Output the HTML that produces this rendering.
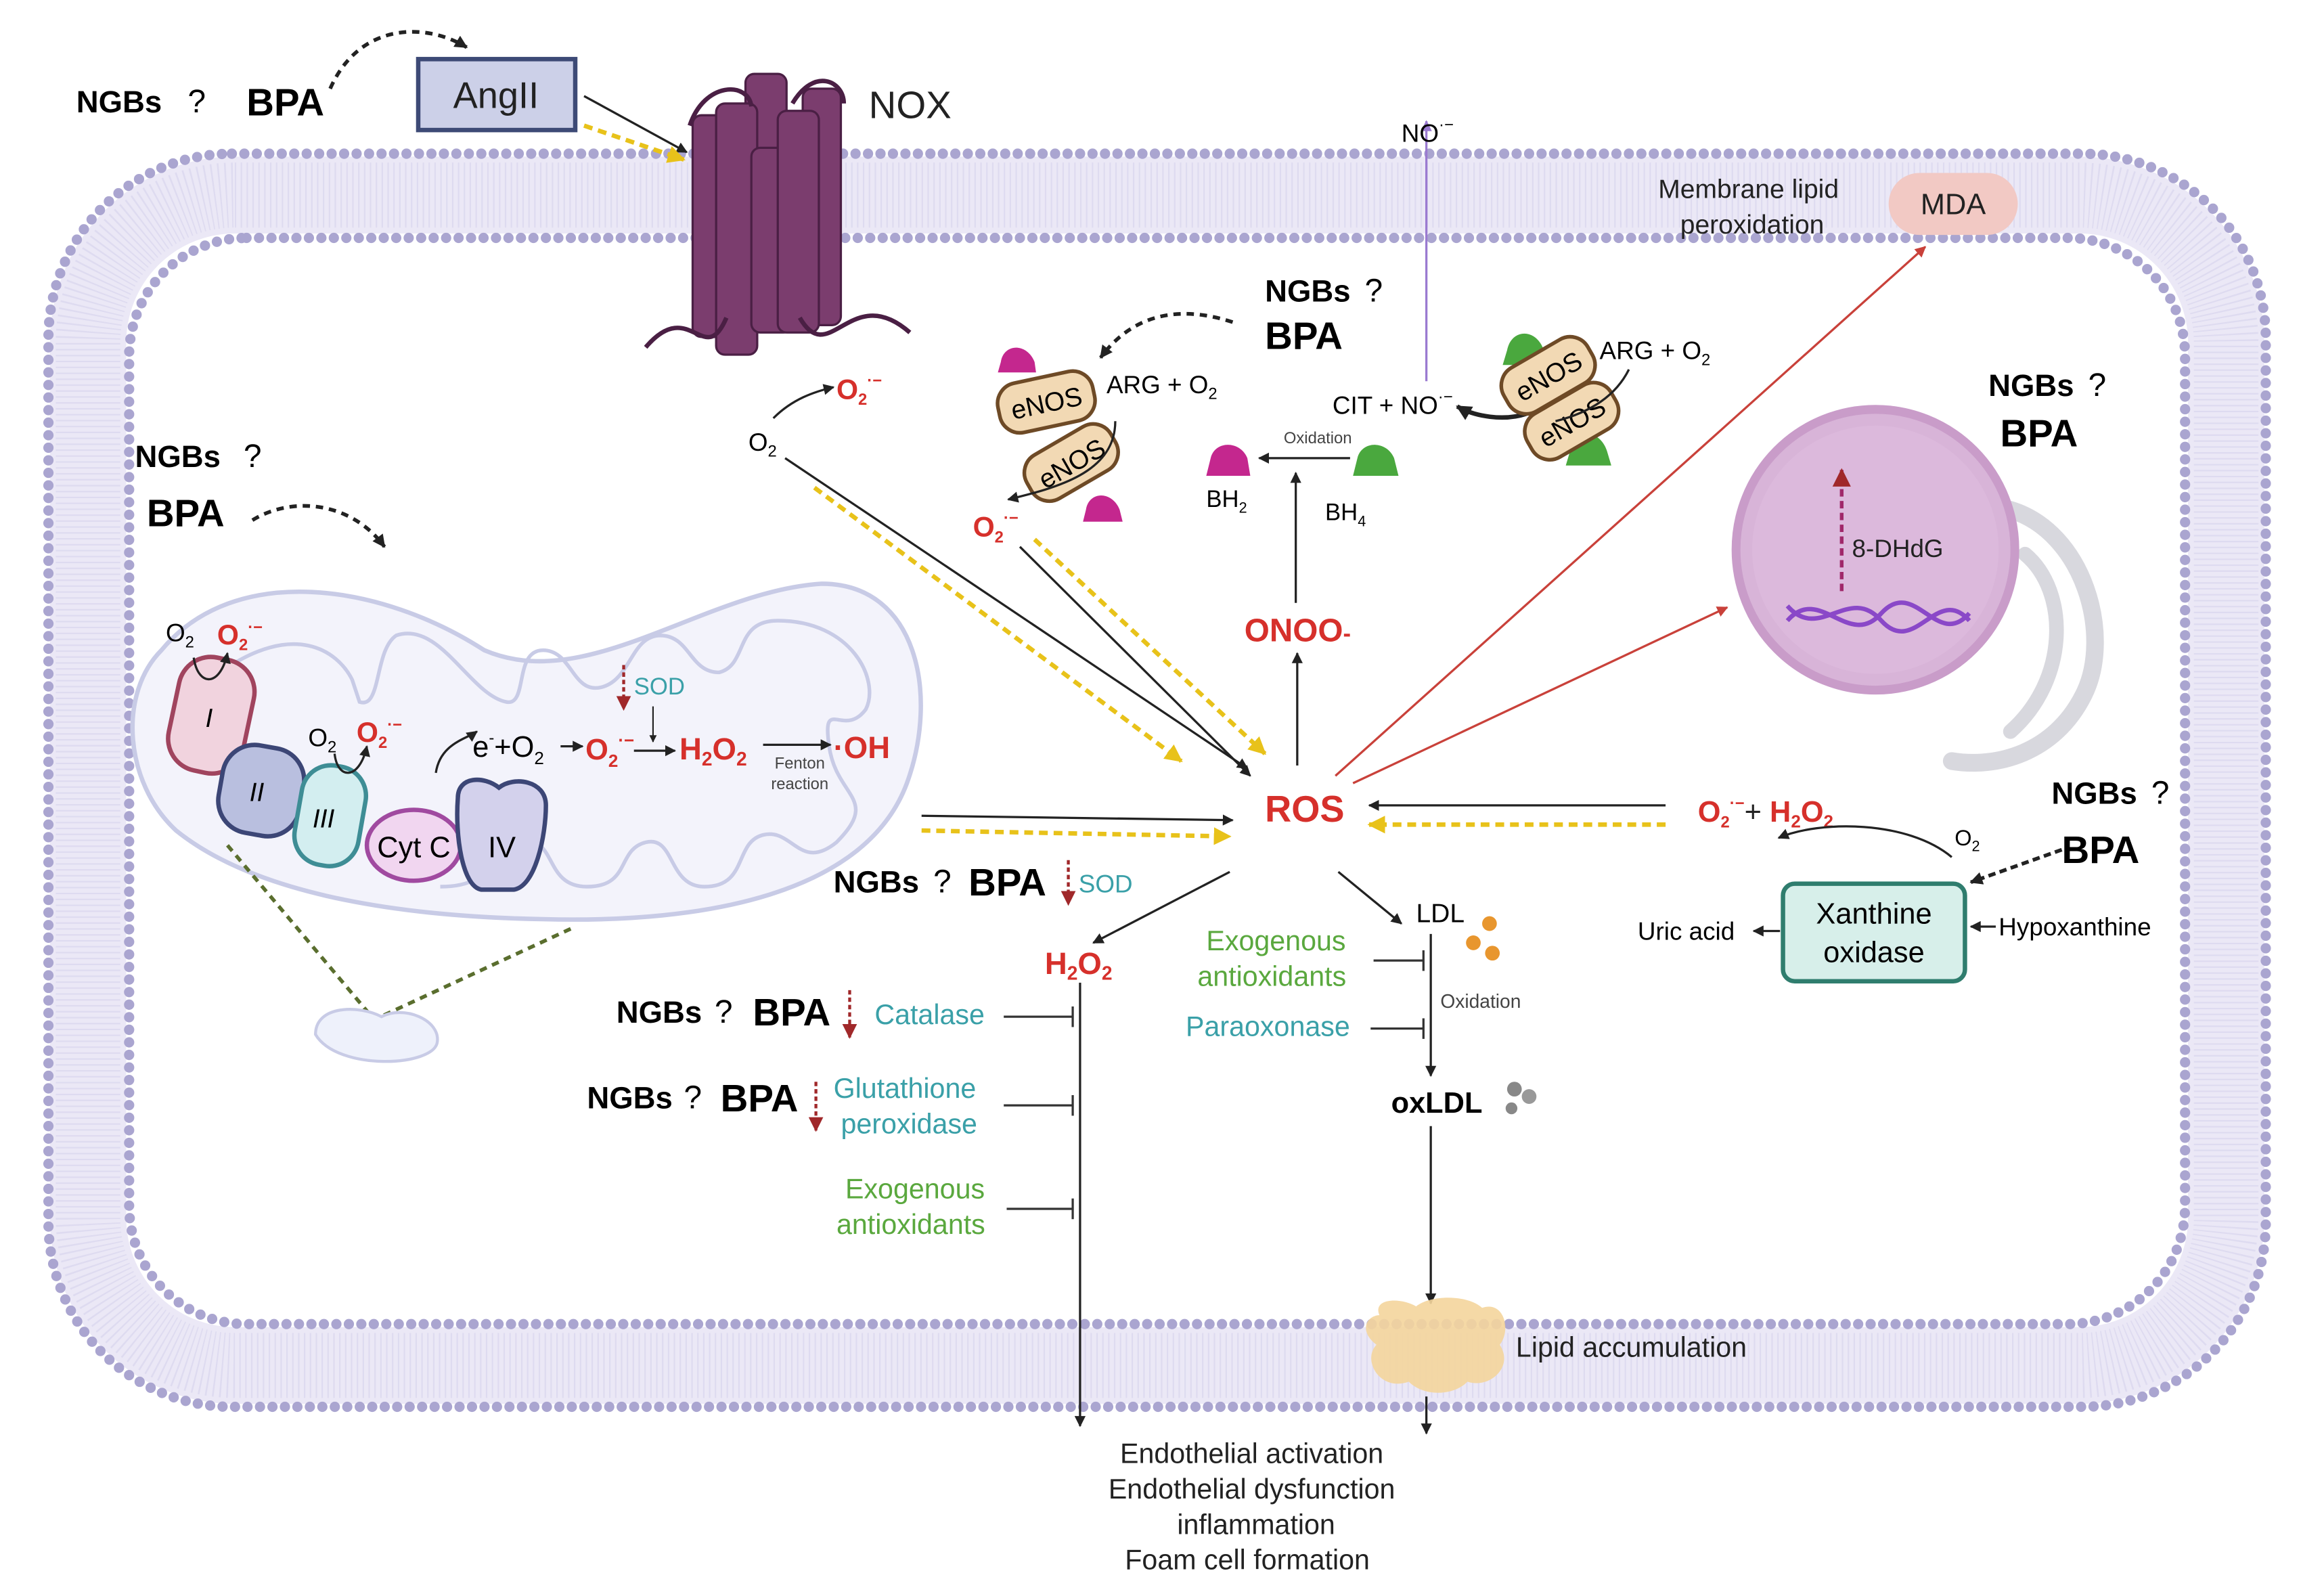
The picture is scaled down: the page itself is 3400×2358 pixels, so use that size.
<!DOCTYPE html>
<html><head><meta charset="utf-8"><style>html,body{margin:0;padding:0;background:#fff}svg{display:block}text{font-family:"Liberation Sans",sans-serif}</style></head>
<body>
<svg width="3400" height="2358" viewBox="0 0 1568 1080" preserveAspectRatio="none" xmlns="http://www.w3.org/2000/svg">
<defs>
<marker id="ab" viewBox="0 0 10 10" refX="9" refY="5" markerWidth="5" markerHeight="5" orient="auto"><path d="M0,0L10,5L0,10z" fill="#222"/></marker>
<marker id="ay" viewBox="0 0 10 10" refX="9" refY="5" markerWidth="4" markerHeight="4" orient="auto"><path d="M0,0L10,5L0,10z" fill="#e8c21a"/></marker>
<marker id="ar" viewBox="0 0 10 10" refX="9" refY="5" markerWidth="5" markerHeight="5" orient="auto"><path d="M0,0L10,5L0,10z" fill="#c9413a"/></marker>
<marker id="ap" viewBox="0 0 10 10" refX="9" refY="5" markerWidth="5" markerHeight="5" orient="auto"><path d="M0,0L10,5L0,10z" fill="#9a7ad0"/></marker>
<marker id="ad" viewBox="0 0 10 10" refX="9" refY="5" markerWidth="5" markerHeight="5" orient="auto"><path d="M0,0L10,5L0,10z" fill="#a0282a"/></marker>
<marker id="abig" viewBox="0 0 10 10" refX="9" refY="5" markerWidth="3.5" markerHeight="3.5" orient="auto"><path d="M0,0L10,5L0,10z" fill="#222"/></marker>
<marker id="tb" viewBox="0 0 4 14" refX="2" refY="7" markerWidth="4" markerHeight="14" markerUnits="userSpaceOnUse" orient="auto"><path d="M2,0V14" stroke="#333" stroke-width="1.5"/></marker>
</defs>
<!-- membrane -->
<rect x="60" y="132" width="1457" height="792" rx="100" fill="none" stroke="#ebe8f6" stroke-width="52"/>
<rect x="60" y="132" width="1457" height="792" rx="100" fill="none" stroke="#d6d2ec" stroke-width="44" stroke-dasharray="1 3" opacity="0.6"/>
<rect x="33" y="104" width="1511" height="848" rx="125" fill="none" stroke="#aaa5d0" stroke-width="7" stroke-linecap="round" stroke-dasharray="0 8.5"/>
<rect x="88" y="161" width="1401" height="735" rx="80" fill="none" stroke="#aaa5d0" stroke-width="7" stroke-linecap="round" stroke-dasharray="0 8.5"/>
<rect x="88" y="885" width="1401" height="8" fill="none"/>

<!-- top left -->
<text x="52" y="76" font-size="21" font-weight="bold">NGBs</text><text x="128" y="76" font-size="22">?</text>
<text x="168" y="78" font-size="26" font-weight="bold">BPA</text>
<path d="M225,60 C245,15 290,15 318,32" fill="none" stroke="#222" stroke-width="2.5" stroke-dasharray="5 4" marker-end="url(#abig)"/>
<rect x="285" y="40" width="107" height="48" fill="#ccd0e8" stroke="#3d4a76" stroke-width="3"/>
<text x="338" y="73" font-size="25" text-anchor="middle" fill="#222">AngII</text>
<path d="M398,65 L468,103" stroke="#222" stroke-width="1.5" marker-end="url(#ab)"/>
<path d="M398,85 L466,108" stroke="#e8c21a" stroke-width="3" stroke-dasharray="6 4" marker-end="url(#ay)"/>
<!-- NOX -->
<g fill="#7b3d6e" stroke="#4a1f44" stroke-width="1.5">
<rect x="472" y="78" width="26" height="150" rx="6"/><rect x="508" y="50" width="28" height="160" rx="6"/><rect x="547" y="60" width="26" height="160" rx="6"/>
<rect x="488" y="70" width="28" height="170" rx="6"/><rect x="512" y="100" width="28" height="125" rx="6"/><rect x="530" y="75" width="28" height="150" rx="6"/>
</g>
<path d="M440,235 C470,200 480,250 495,215 M545,215 C565,250 580,190 620,225 M470,85 C480,55 510,55 512,72 M540,70 C555,45 575,55 575,70" fill="none" stroke="#4a1f44" stroke-width="3"/>
<text x="592" y="80" font-size="26" fill="#222">NOX</text>

<!-- mitochondrion -->
<path d="M110,440 C160,380 260,395 330,440 C400,470 480,400 560,395 C625,395 640,470 618,530 C590,605 480,625 370,622 C260,620 170,602 120,562 C85,530 80,470 110,440 Z" fill="#f3f3fb" stroke="#c8cbe6" stroke-width="3"/>
<path d="M150,455 C200,420 230,440 240,460 L245,475 C260,480 255,440 270,430 C300,420 320,470 345,475 C360,478 350,440 370,440 C390,440 390,470 410,465 C430,460 430,430 450,430 C470,430 470,455 490,455 C510,450 500,420 530,420 C580,420 600,460 590,480 C575,500 560,470 565,505 C570,540 600,540 570,570 C545,590 540,560 520,565 C500,570 510,600 480,600 C455,600 460,565 440,570 C420,575 430,600 400,600 C370,600 380,565 355,570 C330,575 340,600 300,600" fill="none" stroke="#c8cbe6" stroke-width="2.5"/>
<rect x="118" y="445" width="52" height="78" rx="22" transform="rotate(12 144 484)" fill="#f1d3de" stroke="#a0445e" stroke-width="3"/>
<text x="140" y="492" font-size="18" font-style="italic">I</text>
<rect x="150" y="505" width="56" height="60" rx="22" fill="#b9bfdf" stroke="#3c4676" stroke-width="3" transform="rotate(10 178 535)"/>
<text x="170" y="542" font-size="18" font-style="italic">II</text>
<rect x="203" y="518" width="44" height="68" rx="20" fill="#d3eef0" stroke="#3e8d95" stroke-width="3" transform="rotate(10 225 552)"/>
<text x="213" y="560" font-size="18" font-style="italic">III</text>
<ellipse cx="282" cy="572" rx="32" ry="24" fill="#f1d6f0" stroke="#a04aa0" stroke-width="3"/>
<text x="282" y="580" font-size="20" text-anchor="middle">Cyt C</text>
<path d="M312,540 C312,525 330,525 340,533 C350,525 372,528 372,545 C372,565 365,600 350,602 L328,602 C315,600 310,565 312,540 Z" fill="#d3d1ec" stroke="#3c4676" stroke-width="3"/>
<text x="342" y="580" font-size="20" text-anchor="middle">IV</text>
<text x="113" y="434" font-size="17">O<tspan font-size="11" dy="4">2</tspan></text>
<text x="148" y="436" font-size="19" font-weight="bold" fill="#d6302b">O<tspan font-size="11" dy="4">2</tspan><tspan font-size="11" dy="-12">·−</tspan></text>
<path d="M132,445 C135,465 150,465 155,442" fill="none" stroke="#222" stroke-width="1.5" marker-end="url(#ab)"/>
<text x="210" y="505" font-size="17">O<tspan font-size="11" dy="4">2</tspan></text>
<text x="243" y="502" font-size="19" font-weight="bold" fill="#d6302b">O<tspan font-size="11" dy="4">2</tspan><tspan font-size="11" dy="-12">·−</tspan></text>
<path d="M228,510 C230,528 245,528 250,505" fill="none" stroke="#222" stroke-width="1.5" marker-end="url(#ab)"/>
<path d="M297,523 C300,503 318,500 325,495" fill="none" stroke="#222" stroke-width="1.5" marker-end="url(#ab)"/>
<text x="322" y="512" font-size="20">e<tspan font-size="11" dy="-9">-</tspan><tspan dy="9">+O</tspan><tspan font-size="12" dy="5">2</tspan></text>
<path d="M382,505 L397,505" stroke="#222" stroke-width="1.5" marker-end="url(#ab)"/>
<text x="399" y="514" font-size="20" font-weight="bold" fill="#d6302b">O<tspan font-size="12" dy="5">2</tspan><tspan font-size="12" dy="-14">·−</tspan></text>
<path d="M432,508 L460,508" stroke="#222" stroke-width="1.5" marker-end="url(#ab)"/>
<path d="M445,478 L445,502" stroke="#222" stroke-width="1" marker-end="url(#ab)"/>
<path d="M425,450 L425,480" stroke="#a0282a" stroke-width="2" stroke-dasharray="3 2" marker-end="url(#ad)"/>
<text x="432" y="470" font-size="16" fill="#3aa0a8">SOD</text>
<text x="463" y="514" font-size="21" font-weight="bold" fill="#d6302b">H<tspan font-size="13" dy="4">2</tspan><tspan dy="-4">O</tspan><tspan font-size="13" dy="4">2</tspan></text>
<path d="M520,504 L566,504" stroke="#222" stroke-width="1.5" marker-end="url(#ab)"/>
<text x="545" y="520" font-size="11" text-anchor="middle" fill="#444">Fenton</text>
<text x="545" y="534" font-size="11" text-anchor="middle" fill="#444">reaction</text>
<text x="568" y="513" font-size="21" font-weight="bold" fill="#d6302b">·OH</text>
<path d="M155,572 L255,690 L390,628" fill="none" stroke="#5a6e2e" stroke-width="2.5" stroke-dasharray="5 4"/>
<path d="M215,700 C215,680 245,680 260,688 C275,680 300,690 298,705 C296,722 230,725 215,700 Z" fill="#eef1fb" stroke="#c8cbe6" stroke-width="2"/>

<!-- left NGBs -->
<text x="92" y="316" font-size="21" font-weight="bold">NGBs</text><text x="166" y="316" font-size="22">?</text>
<text x="100" y="356" font-size="26" font-weight="bold">BPA</text>
<path d="M172,352 C200,335 240,340 262,370" fill="none" stroke="#222" stroke-width="2.5" stroke-dasharray="5 4" marker-end="url(#abig)"/>

<!-- O2 -> O2- -->
<text x="510" y="305" font-size="17">O<tspan font-size="11" dy="4">2</tspan></text>
<path d="M527,283 C540,270 555,265 568,262" fill="none" stroke="#222" stroke-width="1.5" marker-end="url(#ab)"/>
<text x="570" y="270" font-size="19" font-weight="bold" fill="#d6302b">O<tspan font-size="11" dy="4">2</tspan><tspan font-size="11" dy="-13">·−</tspan></text>
<path d="M535,310 L850,520" stroke="#222" stroke-width="1.5" marker-end="url(#ab)"/>
<path d="M555,330 L805,515" stroke="#e8c21a" stroke-width="3" stroke-dasharray="6 4" marker-end="url(#ay)"/>
<path d="M695,370 L852,525" stroke="#222" stroke-width="1.5" marker-end="url(#ab)"/>
<path d="M705,365 L862,510" stroke="#e8c21a" stroke-width="3" stroke-dasharray="6 4" marker-end="url(#ay)"/>
<path d="M628,552 L840,555" stroke="#222" stroke-width="1.5" marker-end="url(#ab)"/>
<path d="M628,562 L838,566" stroke="#e8c21a" stroke-width="3" stroke-dasharray="6 4" marker-end="url(#ay)"/>

<!-- eNOS left -->
<text x="862" y="204" font-size="21" font-weight="bold">NGBs</text><text x="930" y="204" font-size="22">?</text>
<text x="862" y="236" font-size="26" font-weight="bold">BPA</text>
<path d="M840,218 C800,205 770,215 750,242" fill="none" stroke="#222" stroke-width="2.5" stroke-dasharray="5 4" marker-end="url(#abig)"/>
<path d="M682,245 C684,232 700,232 705,245 L706,252 L680,252 Z" fill="#c4278e"/>
<path d="M740,345 C742,332 758,332 763,345 L765,353 L738,353 Z" fill="#c4278e"/>
<rect x="680" y="255" width="66" height="34" rx="14" transform="rotate(-12 713 272)" fill="#f2d9b4" stroke="#6e4a26" stroke-width="2.5"/>
<text x="713" y="279" font-size="18" text-anchor="middle" transform="rotate(-12 713 272)">eNOS</text>
<rect x="697" y="296" width="66" height="34" rx="14" transform="rotate(-30 730 313)" fill="#f2d9b4" stroke="#6e4a26" stroke-width="2.5"/>
<text x="730" y="320" font-size="18" text-anchor="middle" transform="rotate(-30 730 313)">eNOS</text>
<text x="754" y="266" font-size="17">ARG + O<tspan font-size="11" dy="4">2</tspan></text>
<path d="M760,285 C760,320 720,330 687,338" fill="none" stroke="#222" stroke-width="1.5" marker-end="url(#ab)"/>
<text x="663" y="363" font-size="19" font-weight="bold" fill="#d6302b">O<tspan font-size="11" dy="4">2</tspan><tspan font-size="11" dy="-13">·−</tspan></text>

<!-- NO / BH -->
<path d="M972,258 L972,82" stroke="#9a7ad0" stroke-width="1.5" marker-end="url(#ap)"/>
<text x="955" y="96" font-size="17">NO<tspan font-size="11" dy="-8">·−</tspan></text>
<text x="908" y="280" font-size="17">CIT + NO<tspan font-size="11" dy="-8">·−</tspan></text>
<path d="M1040,280 C1025,285 1005,282 993,275" fill="none" stroke="#222" stroke-width="3" marker-end="url(#abig)"/>
<path d="M1027,237 C1030,222 1047,222 1052,237 L1055,247 L1024,247 Z" fill="#4aa83e"/>
<path d="M1070,305 C1073,290 1090,290 1095,305 L1098,315 L1067,315 Z" fill="#4aa83e"/>
<rect x="1022" y="237" width="66" height="34" rx="14" transform="rotate(-30 1055 254)" fill="#f2d9b4" stroke="#6e4a26" stroke-width="2.5"/>
<text x="1055" y="261" font-size="18" text-anchor="middle" transform="rotate(-30 1055 254)">eNOS</text>
<rect x="1038" y="268" width="66" height="34" rx="14" transform="rotate(-30 1071 285)" fill="#f2d9b4" stroke="#6e4a26" stroke-width="2.5"/>
<text x="1071" y="292" font-size="18" text-anchor="middle" transform="rotate(-30 1071 285)">eNOS</text>
<text x="1090" y="243" font-size="17">ARG + O<tspan font-size="11" dy="4">2</tspan></text>
<path d="M1110,250 C1100,270 1080,280 1060,285" fill="none" stroke="#222" stroke-width="1.5"/>
<path d="M825,310 C828,298 845,298 850,310 L852,322 L822,322 Z" fill="#c4278e"/>
<path d="M925,310 C928,298 945,298 950,310 L953,322 L922,322 Z" fill="#4aa83e"/>
<path d="M920,310 L858,310" stroke="#222" stroke-width="1.5" marker-end="url(#ab)"/>
<text x="898" y="300" font-size="11" text-anchor="middle" fill="#444">Oxidation</text>
<text x="822" y="343" font-size="16">BH<tspan font-size="10" dy="4">2</tspan></text>
<text x="903" y="352" font-size="16">BH<tspan font-size="10" dy="4">4</tspan></text>
<path d="M883,408 L883,320" stroke="#222" stroke-width="1.5" marker-end="url(#ab)"/>
<text x="848" y="434" font-size="22" font-weight="bold" fill="#d6302b">ONOO<tspan font-size="16">-</tspan></text>
<path d="M884,518 L884,442" stroke="#222" stroke-width="1.5" marker-end="url(#ab)"/>

<!-- ROS -->
<text x="862" y="556" font-size="25" font-weight="bold" fill="#d6302b">ROS</text>
<path d="M910,525 L1312,167" stroke="#c9413a" stroke-width="1.5" marker-end="url(#ar)"/>
<path d="M922,530 L1177,411" stroke="#c9413a" stroke-width="1.5" marker-end="url(#ar)"/>
<text x="1130" y="134" font-size="18" fill="#222">Membrane lipid</text>
<text x="1145" y="158" font-size="18" fill="#222">peroxidation</text>
<rect x="1287" y="117" width="88" height="42" rx="21" fill="#f2c9c4"/>
<text x="1331" y="145" font-size="20" text-anchor="middle" fill="#222">MDA</text>
<!-- nucleus & ER -->
<path d="M1370,345 C1420,360 1440,430 1420,470 C1400,510 1360,520 1330,515" fill="none" stroke="#d8d8de" stroke-width="12" stroke-linecap="round"/>
<path d="M1380,375 C1410,400 1410,460 1370,495" fill="none" stroke="#d8d8de" stroke-width="10" stroke-linecap="round"/>
<circle cx="1278" cy="372" r="95" fill="#d8b4d8" stroke="#c99cc9" stroke-width="6"/>
<circle cx="1278" cy="372" r="84" fill="#dcb9dc"/>
<path d="M1255,400 L1255,318" stroke="#a0286a" stroke-width="2.5" stroke-dasharray="5 3" marker-end="url(#ad)"/>
<text x="1262" y="377" font-size="17" fill="#222">8-DHdG</text>
<path d="M1218,420 C1240,395 1260,440 1282,415 C1305,390 1320,440 1342,415 M1218,410 C1240,435 1260,395 1282,420 C1305,445 1320,395 1342,420" fill="none" stroke="#8a48c8" stroke-width="3"/>
<text x="1355" y="268" font-size="21" font-weight="bold">NGBs</text><text x="1423" y="268" font-size="22">?</text>
<text x="1363" y="302" font-size="26" font-weight="bold">BPA</text>

<!-- xanthine -->
<path d="M1135,545 L933,545" stroke="#222" stroke-width="1.5" marker-end="url(#ab)"/>
<path d="M1135,558 L933,558" stroke="#e8c21a" stroke-width="3" stroke-dasharray="6 4" marker-end="url(#ay)"/>
<text x="1157" y="556" font-size="20" font-weight="bold" fill="#d6302b">O<tspan font-size="11" dy="4">2</tspan><tspan font-size="11" dy="-13">·−</tspan><tspan fill="#222" dy="9" font-weight="normal">+ </tspan>H<tspan font-size="12" dy="4">2</tspan><tspan dy="-4">O</tspan><tspan font-size="12" dy="4">2</tspan></text>
<path d="M1330,580 C1300,555 1240,555 1212,567" fill="none" stroke="#222" stroke-width="1.5" marker-end="url(#ab)"/>
<text x="1332" y="572" font-size="15">O<tspan font-size="10" dy="4">2</tspan></text>
<text x="1398" y="544" font-size="21" font-weight="bold">NGBs</text><text x="1466" y="544" font-size="22">?</text>
<text x="1405" y="584" font-size="26" font-weight="bold">BPA</text>
<path d="M1405,575 L1343,597" stroke="#222" stroke-width="2.5" stroke-dasharray="5 3" marker-end="url(#abig)"/>
<rect x="1215" y="598" width="124" height="66" rx="8" fill="#d7efea" stroke="#2f7d6e" stroke-width="3"/>
<text x="1277" y="625" font-size="20" text-anchor="middle">Xanthine</text>
<text x="1277" y="651" font-size="20" text-anchor="middle">oxidase</text>
<text x="1116" y="636" font-size="17">Uric acid</text>
<path d="M1213,630 L1195,630" stroke="#222" stroke-width="1.5" marker-end="url(#ab)"/>
<text x="1362" y="633" font-size="17">Hypoxanthine</text>
<path d="M1360,627 L1343,627" stroke="#222" stroke-width="1.5" marker-end="url(#ab)"/>

<!-- H2O2 branch -->
<path d="M838,590 L745,638" stroke="#222" stroke-width="1.5" marker-end="url(#ab)"/>
<text x="568" y="604" font-size="21" font-weight="bold">NGBs</text><text x="636" y="604" font-size="22">?</text>
<text x="660" y="606" font-size="26" font-weight="bold">BPA</text>
<path d="M728,582 L728,612" stroke="#a0282a" stroke-width="2" stroke-dasharray="3 2" marker-end="url(#ad)"/>
<text x="735" y="604" font-size="17" fill="#3aa0a8">SOD</text>
<text x="712" y="659" font-size="21" font-weight="bold" fill="#d6302b">H<tspan font-size="13" dy="4">2</tspan><tspan dy="-4">O</tspan><tspan font-size="13" dy="4">2</tspan></text>
<path d="M736,665 L736,965" stroke="#222" stroke-width="1.5" marker-end="url(#ab)"/>
<text x="420" y="692" font-size="21" font-weight="bold">NGBs</text><text x="487" y="692" font-size="22">?</text>
<text x="513" y="694" font-size="26" font-weight="bold">BPA</text>
<path d="M579,670 L579,702" stroke="#a0282a" stroke-width="2" stroke-dasharray="3 2" marker-end="url(#ad)"/>
<text x="596" y="693" font-size="19" fill="#3aa0a8">Catalase</text>
<path d="M684,688 L731,688" stroke="#333" stroke-width="1.5" marker-end="url(#tb)"/>
<text x="400" y="750" font-size="21" font-weight="bold">NGBs</text><text x="466" y="750" font-size="22">?</text>
<text x="491" y="752" font-size="26" font-weight="bold">BPA</text>
<path d="M556,732 L556,765" stroke="#a0282a" stroke-width="2" stroke-dasharray="3 2" marker-end="url(#ad)"/>
<text x="568" y="743" font-size="19" fill="#3aa0a8">Glutathione</text>
<text x="573" y="767" font-size="19" fill="#3aa0a8">peroxidase</text>
<path d="M684,748 L731,748" stroke="#333" stroke-width="1.5" marker-end="url(#tb)"/>
<text x="576" y="811" font-size="19" fill="#5aa83e">Exogenous</text>
<text x="570" y="835" font-size="19" fill="#5aa83e">antioxidants</text>
<path d="M686,818 L731,818" stroke="#333" stroke-width="1.5" marker-end="url(#tb)"/>

<!-- LDL branch -->
<path d="M912,590 L955,625" stroke="#222" stroke-width="1.5" marker-end="url(#ab)"/>
<text x="965" y="624" font-size="18">LDL</text>
<circle cx="1015" cy="625" r="5" fill="#e8962e"/><circle cx="1004" cy="638" r="5" fill="#e8962e"/><circle cx="1017" cy="645" r="5" fill="#e8962e"/>
<path d="M975,632 L975,728" stroke="#222" stroke-width="1.5" marker-end="url(#ab)"/>
<text x="1009" y="682" font-size="13" text-anchor="middle" fill="#444">Oxidation</text>
<text x="822" y="643" font-size="19" fill="#5aa83e">Exogenous</text>
<text x="816" y="667" font-size="19" fill="#5aa83e">antioxidants</text>
<path d="M936,650 L970,650" stroke="#333" stroke-width="1.5" marker-end="url(#tb)"/>
<text x="808" y="701" font-size="19" fill="#3aa0a8">Paraoxonase</text>
<path d="M934,696 L970,696" stroke="#333" stroke-width="1.5" marker-end="url(#tb)"/>
<text x="948" y="753" font-size="20" font-weight="bold">oxLDL</text>
<circle cx="1032" cy="737" r="5" fill="#888"/><circle cx="1042" cy="742" r="5" fill="#999"/><circle cx="1030" cy="750" r="4" fill="#888"/>
<path d="M975,762 L975,882" stroke="#222" stroke-width="1.5" marker-end="url(#ab)"/>
<path d="M940,890 C935,878 955,878 965,884 C975,876 1000,876 1010,885 C1025,880 1030,900 1022,910 C1032,925 1015,940 1000,935 C990,945 970,945 960,935 C940,942 928,920 938,910 C925,900 932,890 940,890 Z" fill="#f4d59c" opacity="0.9"/>
<text x="1033" y="918" font-size="19" fill="#222">Lipid accumulation</text>
<path d="M972,945 L972,970" stroke="#222" stroke-width="1.5" marker-end="url(#ab)"/>
<text x="853" y="990" font-size="19" text-anchor="middle" fill="#222">Endothelial activation</text>
<text x="853" y="1014" font-size="19" text-anchor="middle" fill="#222">Endothelial dysfunction</text>
<text x="856" y="1038" font-size="19" text-anchor="middle" fill="#222">inflammation</text>
<text x="850" y="1062" font-size="19" text-anchor="middle" fill="#222">Foam cell formation</text>
</svg>
</body></html>
